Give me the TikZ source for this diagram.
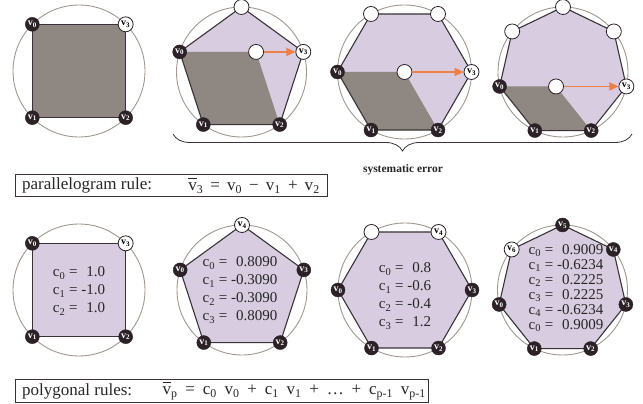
\documentclass[tikz,border=0pt]{standalone}
\usepackage{fontspec}
\setmainfont{Liberation Serif}
\usepackage{xcolor}
\usepackage{tikz}
\usetikzlibrary{arrows.meta,calc,decorations.pathreplacing}
\definecolor{lilac}{HTML}{D8CCE0}
\definecolor{stone}{HTML}{8F8781}
\definecolor{rim}{HTML}{A0978F}
\definecolor{edgeline}{HTML}{3B3237}
\definecolor{ink}{HTML}{2B2126}
\definecolor{drift}{HTML}{EF7F45}
\tikzset{
  rimc/.style={draw=rim, line width=0.9pt},
  poly/.style={draw=edgeline, line width=1.1pt, line join=round},
  vblk/.style={circle, draw=ink, fill=ink, minimum size=14pt, inner sep=0pt, text=white, font=\fontsize{10}{10}\selectfont\bfseries},
  vwht/.style={circle, draw=ink, fill=white, line width=0.8pt, minimum size=15pt, inner sep=0pt, font=\fontsize{10}{10}\selectfont\bfseries},
  driftarr/.style={-{Triangle[length=9pt, width=8pt]}, line width=1.8pt, drift},
  coef/.style={font=\fontsize{15}{18}\selectfont, align=left, text=black!85},
  rulebox/.style={draw=edgeline, line width=0.9pt, minimum height=22pt, inner sep=0pt},
  ruletxt/.style={font=\fontsize{17}{20}\selectfont, inner sep=0pt, text=black!85},
}
\newcommand{\vsub}[1]{v\textsubscript{#1}}
\newcommand{\csub}[1]{c\textsubscript{#1}}
\newcommand{\vbar}{\leavevmode\rlap{\raisebox{0.7em}{\rule{0.5em}{0.06em}}}v}

\begin{document}
\begin{tikzpicture}[x=1pt, y=1pt]
\useasboundingbox (0,0) rectangle (643,404);

% top row: square
\coordinate (ta) at (79,333);
\draw[rimc] (ta) circle[radius=66pt];
\foreach \k in {0,...,3} \coordinate (ta\k) at ($(ta)+({135+90*\k}:66pt)$);
\fill[stone] (ta0) -- (ta1) -- (ta2) -- (ta3) -- cycle;
\draw[poly] (ta0) -- (ta1) -- (ta2) -- (ta3) -- cycle;
\foreach \k in {0,1,2} \node[vblk] (na\k) at (ta\k) {\vsub{\k}};
\node[vwht] (na3) at (ta3) {\vsub{3}};

% top row: pentagon
\coordinate (tb) at (241.5,332);
\draw[rimc] (tb) circle[radius=65pt];
\foreach \k in {0,...,4} \coordinate (tb\k) at ($(tb)+({162+72*\k}:65pt)$);
\fill[lilac] (tb0) -- (tb1) -- (tb2) -- (tb3) -- (tb4) -- cycle;
\coordinate (tbp) at ($(tb0)-(tb1)+(tb2)$);
\fill[stone] (tb0) -- (tb1) -- (tb2) -- (tbp) -- cycle;
\draw[poly] (tb0) -- (tb1) -- (tb2) -- (tb3) -- (tb4) -- cycle;
\foreach \k in {0,1,2} \node[vblk] (nb\k) at (tb\k) {\vsub{\k}};
\node[vwht] (nb3) at (tb3) {\vsub{3}};
\node[vwht] (nb4) at (tb4) {};
\node[vwht] (nbp) at (tbp) {};
\draw[driftarr] (nbp) -- (nb3);

% top row: hexagon
\coordinate (tc) at (404.5,332);
\draw[rimc] (tc) circle[radius=67pt];
\foreach \k in {0,...,5} \coordinate (tc\k) at ($(tc)+({180+60*\k}:67pt)$);
\fill[lilac] (tc0) -- (tc1) -- (tc2) -- (tc3) -- (tc4) -- (tc5) -- cycle;
\coordinate (tcp) at ($(tc0)-(tc1)+(tc2)$);
\fill[stone] (tc0) -- (tc1) -- (tc2) -- (tcp) -- cycle;
\draw[poly] (tc0) -- (tc1) -- (tc2) -- (tc3) -- (tc4) -- (tc5) -- cycle;
\foreach \k in {0,1,2} \node[vblk] (nc\k) at (tc\k) {\vsub{\k}};
\node[vwht] (nc3) at (tc3) {\vsub{3}};
\foreach \k in {4,5} \node[vwht] (nc\k) at (tc\k) {};
\node[vwht] (ncp) at (tcp) {};
\draw[driftarr] (ncp) -- (nc3);

% top row: heptagon
\coordinate (td) at (563,332);
\draw[rimc] (td) circle[radius=65pt];
\foreach \k in {0,...,6} \coordinate (td\k) at ($(td)+({192.857+51.4286*\k}:65pt)$);
\fill[lilac] (td0) -- (td1) -- (td2) -- (td3) -- (td4) -- (td5) -- (td6) -- cycle;
\coordinate (tdp) at ($(td0)-(td1)+(td2)$);
\fill[stone] (td0) -- (td1) -- (td2) -- (tdp) -- cycle;
\draw[poly] (td0) -- (td1) -- (td2) -- (td3) -- (td4) -- (td5) -- (td6) -- cycle;
\foreach \k in {0,1,2} \node[vblk] (nd\k) at (td\k) {\vsub{\k}};
\node[vwht] (nd3) at (td3) {\vsub{3}};
\foreach \k in {4,5,6} \node[vwht] (nd\k) at (td\k) {};
\node[vwht] (ndp) at (tdp) {};
\draw[driftarr] (ndp) -- (nd3);

% brace under the polygons
\coordinate (bl) at (173,270);
\coordinate (br) at (632,270);
\draw[decorate, decoration={brace, mirror, amplitude=17pt}, draw=edgeline, line width=0.8pt] (bl) -- (br);
\node[font=\fontsize{11.5}{13}\selectfont\bfseries, text=black!85] (serr) at (403,234) {systematic error};

% parallelogram rule
\node[rulebox, minimum width=312pt, anchor=south west] (pbox) at (15,207) {};
\node[ruletxt, anchor=west] (plab) at ([xshift=7pt]pbox.west) {parallelogram rule:};
\node[ruletxt, anchor=east] (peq) at ([xshift=-8pt]pbox.east)
  {\vbar\textsubscript{3}\hspace{0.42em}=\hspace{0.42em}\vsub{0}\hspace{0.42em}−\hspace{0.42em}\vsub{1}\hspace{0.42em}+\hspace{0.42em}\vsub{2}};

% bottom row: square
\coordinate (ba) at (79,114);
\draw[rimc] (ba) circle[radius=66pt];
\foreach \k in {0,...,3} \coordinate (ba\k) at ($(ba)+({135+90*\k}:66pt)$);
\fill[lilac] (ba0) -- (ba1) -- (ba2) -- (ba3) -- cycle;
\draw[poly] (ba0) -- (ba1) -- (ba2) -- (ba3) -- cycle;
\foreach \k in {0,1,2} \node[vblk] (ma\k) at (ba\k) {\vsub{\k}};
\node[vwht] (ma3) at (ba3) {\vsub{3}};
\node[coef] (ka) at (79,113) {\csub{0} = \phantom{-}1.0\\\csub{1} = -1.0\\\csub{2} = \phantom{-}1.0};

% bottom row: pentagon
\coordinate (bb) at (242,114);
\draw[rimc] (bb) circle[radius=65pt];
\foreach \k in {0,...,4} \coordinate (bb\k) at ($(bb)+({162+72*\k}:65pt)$);
\fill[lilac] (bb0) -- (bb1) -- (bb2) -- (bb3) -- (bb4) -- cycle;
\draw[poly] (bb0) -- (bb1) -- (bb2) -- (bb3) -- (bb4) -- cycle;
\foreach \k in {0,...,3} \node[vblk] (mb\k) at (bb\k) {\vsub{\k}};
\node[vwht] (mb4) at (bb4) {\vsub{4}};
\node[coef] (kb) at (240,114) {\csub{0} = \phantom{-}0.8090\\\csub{1} = -0.3090\\\csub{2} = -0.3090\\\csub{3} = \phantom{-}0.8090};

% bottom row: hexagon
\coordinate (bc) at (405,114);
\draw[rimc] (bc) circle[radius=67pt];
\foreach \k in {0,...,5} \coordinate (bc\k) at ($(bc)+({180+60*\k}:67pt)$);
\fill[lilac] (bc0) -- (bc1) -- (bc2) -- (bc3) -- (bc4) -- (bc5) -- cycle;
\draw[poly] (bc0) -- (bc1) -- (bc2) -- (bc3) -- (bc4) -- (bc5) -- cycle;
\foreach \k in {0,...,3} \node[vblk] (mc\k) at (bc\k) {\vsub{\k}};
\node[vwht] (mc4) at (bc4) {\vsub{4}};
\node[vwht] (mc5) at (bc5) {};
\node[coef] (kc) at (405,108) {\csub{0} = \phantom{-}0.8\\\csub{1} = -0.6\\\csub{2} = -0.4\\\csub{3} = \phantom{-}1.2};

% bottom row: heptagon
\coordinate (bd) at (562.5,114);
\draw[rimc] (bd) circle[radius=65pt];
\foreach \k in {0,...,6} \coordinate (bd\k) at ($(bd)+({192.857+51.4286*\k}:65pt)$);
\fill[lilac] (bd0) -- (bd1) -- (bd2) -- (bd3) -- (bd4) -- (bd5) -- (bd6) -- cycle;
\draw[poly] (bd0) -- (bd1) -- (bd2) -- (bd3) -- (bd4) -- (bd5) -- (bd6) -- cycle;
\foreach \k in {0,...,5} \node[vblk] (md\k) at (bd\k) {\vsub{\k}};
\node[vwht] (md6) at (bd6) {\vsub{6}};
\node[coef, font=\fontsize{15}{15}\selectfont] (kd) at (566,116) {\csub{0} = \phantom{-}0.9009\\\csub{1} = -0.6234\\\csub{2} = \phantom{-}0.2225\\\csub{3} = \phantom{-}0.2225\\\csub{4} = -0.6234\\\csub{0} = \phantom{-}0.9009};

% polygonal rules
\node[rulebox, minimum width=413pt, minimum height=23pt, anchor=south west] (qbox) at (15,1) {};
\node[ruletxt, anchor=west] (qlab) at ([xshift=7pt]qbox.west) {polygonal rules:};
\node[ruletxt, anchor=east] (qeq) at ([xshift=-3pt]qbox.east)
  {\vbar\textsubscript{p}\hspace{0.46em}=\hspace{0.46em}\csub{0}\hspace{0.46em}\vsub{0}\hspace{0.46em}+\hspace{0.46em}\csub{1}\hspace{0.46em}\vsub{1}\hspace{0.46em}+\hspace{0.46em}…\hspace{0.46em}+\hspace{0.46em}\csub{p-1}\hspace{0.46em}\vsub{p-1}};
\end{tikzpicture}
\end{document}
